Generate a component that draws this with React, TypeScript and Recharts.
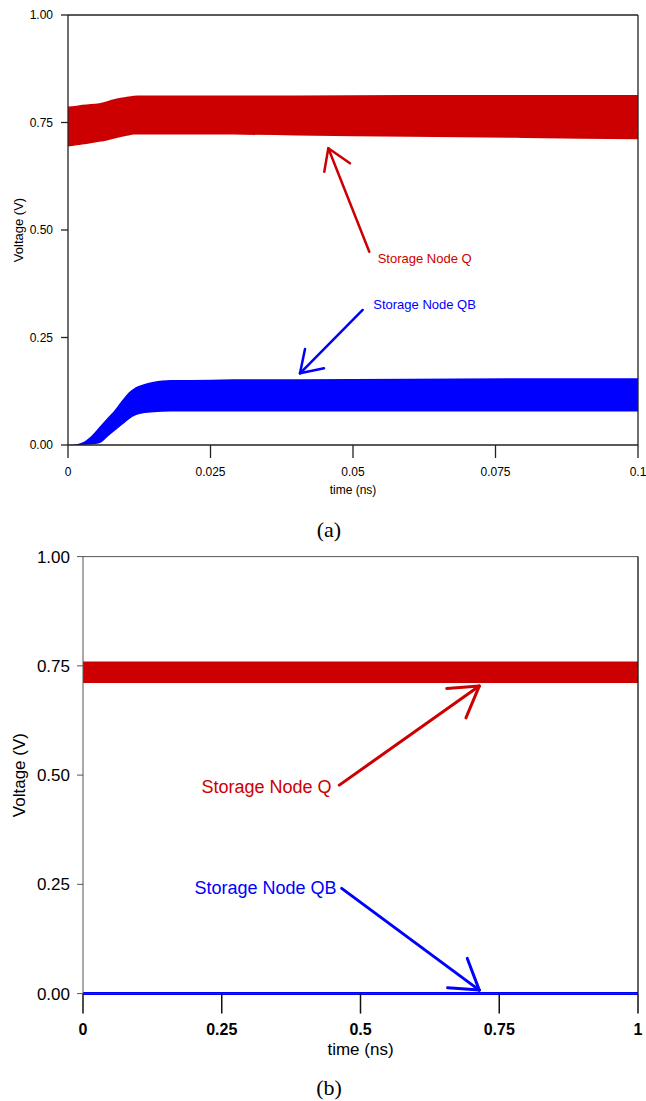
import React from 'react';
import { ComposedChart, Area, Line, XAxis, YAxis, ReferenceLine, ReferenceDot } from 'recharts';

// ---------- Panel (a) data ----------
const timeA = [0, 0.0015, 0.0025, 0.004, 0.0055, 0.007, 0.008, 0.0095, 0.0103, 0.011, 0.0115, 0.013, 0.015, 0.018, 0.025, 0.04, 0.06, 0.08, 0.1];
const qLowA = [0.694, 0.697, 0.699, 0.702, 0.705, 0.709, 0.712, 0.717, 0.719, 0.721, 0.722, 0.722, 0.722, 0.722, 0.722, 0.72, 0.717, 0.714, 0.711];
const qHighA = [0.787, 0.789, 0.791, 0.793, 0.795, 0.8, 0.804, 0.808, 0.81, 0.811, 0.812, 0.813, 0.813, 0.813, 0.813, 0.813, 0.814, 0.814, 0.814];
const qbLowA = [0, 0, 0, 0.001, 0.004, 0.02, 0.031, 0.047, 0.056, 0.063, 0.067, 0.073, 0.076, 0.078, 0.078, 0.078, 0.078, 0.078, 0.078];
const qbHighA = [0, 0.002, 0.006, 0.02, 0.042, 0.064, 0.078, 0.104, 0.117, 0.126, 0.131, 0.14, 0.147, 0.151, 0.152, 0.153, 0.154, 0.155, 0.155];
const xTicksA = [0, 0.025, 0.05, 0.075, 0.1];
const xTickLabelsA = ['0', '0.025', '0.05', '0.075', '0.1'];

// ---------- Panel (b) data ----------
const timeB = [0, 0.25, 0.5, 0.75, 1];
const qLowB = [0.711, 0.711, 0.711, 0.711, 0.711];
const qHighB = [0.76, 0.76, 0.76, 0.76, 0.76];
const qbB = [0, 0, 0, 0, 0];
const xTicksB = [0, 0.25, 0.5, 0.75, 1];
const xTickLabelsB = ['0', '0.25', '0.5', '0.75', '1'];

const yTicks = [0, 0.25, 0.5, 0.75, 1];
const yTickLabels = ['0.00', '0.25', '0.50', '0.75', '1.00'];

// ---------- Annotations (data coordinates) ----------
// [tail, tip, head1, head2]
const arrowQA = [{ x: 0.05286, y: 0.4495 }, { x: 0.04567, y: 0.69 }, { x: 0.04496, y: 0.6356 }, { x: 0.04947, y: 0.6551 }];
const arrowQBA = [{ x: 0.0517, y: 0.314 }, { x: 0.0407, y: 0.1667 }, { x: 0.04158, y: 0.2233 }, { x: 0.04491, y: 0.1784 }];
const labelQA = { x: 0.05433, y: 0.434, text: 'Storage Node Q' };
const labelQBA = { x: 0.05356, y: 0.328, text: 'Storage Node QB' };

const arrowQB_ = [{ x: 0.4618, y: 0.4771 }, { x: 0.714, y: 0.7037 }, { x: 0.6553, y: 0.6984 }, { x: 0.69, y: 0.631 }];
const arrowQBB = [{ x: 0.4661, y: 0.2407 }, { x: 0.714, y: 0.008 }, { x: 0.6924, y: 0.0805 }, { x: 0.657, y: 0.0133 }];
const labelQB = { x: 0.448, y: 0.4748, text: 'Storage Node Q' };
const labelQBB = { x: 0.457, y: 0.242, text: 'Storage Node QB' };

const dataA = timeA.map((t, i) => ({ t, q: [qLowA[i], qHighA[i]], qb: [qbLowA[i], qbHighA[i]] }));
const dataB = timeB.map((t, i) => ({ t, q: [qLowB[i], qHighB[i]], qb: qbB[i] }));

const RED = '#cc0000';
const BLUE = '#0000ff';
const SANS = "'Liberation Sans', Arial, Helvetica, sans-serif";
const SERIF = "'Liberation Serif', 'Times New Roman', serif";

function arrow(pts: { x: number; y: number }[], color: string, w: number, key: string) {
  const [tail, tip, h1, h2] = pts;
  const common = { stroke: color, strokeWidth: w, strokeLinecap: 'round' as const, ifOverflow: 'visible' as const };
  return [
    <ReferenceLine key={key + 's'} segment={[tail, tip]} {...common} />,
    <ReferenceLine key={key + 'h1'} segment={[h1, tip]} {...common} />,
    <ReferenceLine key={key + 'h2'} segment={[h2, tip]} {...common} />,
  ];
}

function fmt(ticks: number[], labels: string[]) {
  return (v: number) => {
    const i = ticks.findIndex((t) => Math.abs(t - v) < 1e-9);
    return i >= 0 ? labels[i] : String(v);
  };
}

export default function App() {
  return (
    <div style={{ position: 'absolute', left: 0, top: 0, width: 646, height: 1101, background: '#fff', fontFamily: SANS }}>
      <div style={{ position: 'absolute', left: 0, top: 0 }}>
        <ComposedChart width={646} height={540} data={dataA} margin={{ top: 15, right: 8, left: 8, bottom: 35 }}>
          <XAxis
            dataKey="t"
            type="number"
            domain={[0, 0.1]}
            ticks={xTicksA}
            tickFormatter={fmt(xTicksA, xTickLabelsA)}
            height={60}
            tickSize={13}
            tickMargin={9}
            axisLine={{ stroke: '#222', strokeWidth: 1.3 }}
            tickLine={{ stroke: '#222', strokeWidth: 1.3 }}
            tick={{ fontSize: 12, fill: '#000', fontFamily: SANS }}
            label={{ value: 'time (ns)', position: 'insideBottom', offset: 11, fontSize: 12, fill: '#000', fontFamily: SANS }}
          />
          <YAxis
            type="number"
            domain={[0, 1]}
            ticks={yTicks}
            tickFormatter={fmt(yTicks, yTickLabels)}
            width={60}
            tickSize={7}
            tickMargin={8}
            axisLine={{ stroke: '#222', strokeWidth: 1.3 }}
            tickLine={{ stroke: '#222', strokeWidth: 1.3 }}
            tick={{ fontSize: 12, fill: '#000', fontFamily: SANS }}
            label={{ value: 'Voltage (V)', angle: -90, position: 'insideLeft', offset: 10, style: { textAnchor: 'middle' }, fontSize: 13, fill: '#000', fontFamily: SANS }}
          />
          <Area dataKey="q" type="monotone" fill={RED} fillOpacity={1} stroke="none" isAnimationActive={false} />
          <Area dataKey="qb" type="monotone" fill={BLUE} fillOpacity={1} stroke="none" isAnimationActive={false} />
          <ReferenceLine y={1} stroke="#222" strokeWidth={1.3} />
          <ReferenceLine x={0.1} stroke="#222" strokeWidth={1.3} />
          {arrow(arrowQA, RED, 2.5, 'qa')}
          {arrow(arrowQBA, BLUE, 2.5, 'qba')}
          <ReferenceDot x={labelQA.x} y={labelQA.y} r={0} fill="none" stroke="none"
            label={{ value: labelQA.text, position: 'right', offset: 0, fill: RED, fontSize: 13, fontFamily: SANS }} />
          <ReferenceDot x={labelQBA.x} y={labelQBA.y} r={0} fill="none" stroke="none"
            label={{ value: labelQBA.text, position: 'right', offset: 0, fill: BLUE, fontSize: 13, fontFamily: SANS }} />
        </ComposedChart>
      </div>
      <div style={{ position: 'absolute', left: 229, top: 517, width: 200, textAlign: 'center', fontFamily: SERIF, fontSize: 22, lineHeight: '26px', color: '#000' }}>(a)</div>

      <div style={{ position: 'absolute', left: 0, top: 540 }}>
        <ComposedChart width={646} height={561} data={dataB} margin={{ top: 16.6, right: 8, left: 8, bottom: 47.4 }}>
          <XAxis
            dataKey="t"
            type="number"
            domain={[0, 1]}
            ticks={xTicksB}
            tickFormatter={fmt(xTicksB, xTickLabelsB)}
            height={60}
            tickSize={20}
            tickMargin={10}
            axisLine={{ stroke: '#333', strokeWidth: 1 }}
            tickLine={{ stroke: '#111', strokeWidth: 1.5 }}
            tick={{ fontSize: 16, fill: '#000', fontFamily: SANS, fontWeight: 'bold' }}
            label={{ value: 'time (ns)', position: 'insideBottom', offset: -1, fontSize: 17, fill: '#000', fontFamily: SANS }}
          />
          <YAxis
            type="number"
            domain={[0, 1]}
            ticks={yTicks}
            tickFormatter={fmt(yTicks, yTickLabels)}
            width={75}
            tickSize={6}
            tickMargin={7}
            axisLine={{ stroke: '#555', strokeWidth: 1 }}
            tickLine={{ stroke: '#555', strokeWidth: 1 }}
            tick={{ fontSize: 17, fill: '#000', fontFamily: SANS }}
            label={{ value: 'Voltage (V)', angle: -90, position: 'insideLeft', offset: 11, style: { textAnchor: 'middle' }, fontSize: 17, fill: '#000', fontFamily: SANS }}
          />
          <Area dataKey="q" type="linear" fill={RED} fillOpacity={1} stroke="none" isAnimationActive={false} />
          <Line dataKey="qb" type="linear" stroke={BLUE} strokeWidth={3} dot={false} isAnimationActive={false} />
          <ReferenceLine y={1} stroke="#555" strokeWidth={1} />
          <ReferenceLine x={1} stroke="#111" strokeWidth={1.3} />
          {arrow(arrowQB_, RED, 3, 'qb_')}
          {arrow(arrowQBB, BLUE, 3, 'qbb')}
          <ReferenceDot x={labelQB.x} y={labelQB.y} r={0} fill="none" stroke="none"
            label={{ value: labelQB.text, position: 'left', offset: 0, fill: RED, fontSize: 18, fontFamily: SANS }} />
          <ReferenceDot x={labelQBB.x} y={labelQBB.y} r={0} fill="none" stroke="none"
            label={{ value: labelQBB.text, position: 'left', offset: 0, fill: BLUE, fontSize: 18, fontFamily: SANS }} />
        </ComposedChart>
      </div>
      <div style={{ position: 'absolute', left: 229, top: 1075, width: 200, textAlign: 'center', fontFamily: SERIF, fontSize: 22, lineHeight: '26px', color: '#000' }}>(b)</div>
    </div>
  );
}
